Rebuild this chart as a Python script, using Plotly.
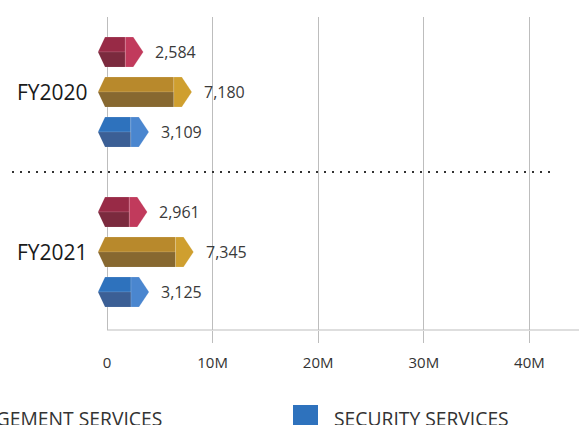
import plotly.graph_objects as go

# ---------------- data ----------------
groups = ["FY2020", "FY2021"]
series = ["PROFESSIONAL SERVICES", "FACILITY MANAGEMENT SERVICES", "SECURITY SERVICES"]
fy2020 = [2584, 7180, 3109]
fy2021 = [2961, 7345, 3125]
tick_vals = [0, 10000, 20000, 30000, 40000]
tick_text = ["0", "10M", "20M", "30M", "40M"]

top_colors = ["#982A46", "#B8892C", "#2E72BD"]
bottom_colors = ["#7B2A3E", "#876830", "#3B5F95"]
cap_colors = ["#C13A5C", "#CF9F2F", "#4A86CF"]

# ---------------- geometry helpers ----------------
OFF = 0                           # body margin removed via post_script
W, H = 579, 425
ML, MR, MT, MB = 90, 0, 17, 95
plot_w = W - ML - MR
plot_h = H - MT - MB
zero_px = 17                      # distance of x=0 from plot left edge
px_per_unit = 105.6 / 10000
K = 1 / px_per_unit               # data units per pixel
x_range = [-zero_px * K, (plot_w - zero_px) * K]
y_range = [6.95, -0.875]
half = 0.375

def ppx(px):                      # paper x from window pixel
    return (px - OFF - ML) / plot_w

def ppy(py):                      # paper y from window pixel
    return (H - MB - (py - OFF)) / plot_h

fig = go.Figure()
annotations = []
values = [fy2020, fy2021]

for g, gname in enumerate(groups):
    for s in range(len(series)):
        v = values[g][s]
        y = g * 4 + s
        # top face
        fig.add_trace(go.Scatter(
            x=[-9 * K, -2 * K, v - 9 * K, v - 9 * K, -9 * K],
            y=[y, y - half, y - half, y, y],
            mode="lines", fill="toself", fillcolor=top_colors[s],
            line=dict(color="rgba(255,255,255,0.18)", width=0.8),
            hoverinfo="skip", showlegend=False))
        # bottom face
        fig.add_trace(go.Scatter(
            x=[-9 * K, v - 9 * K, v - 9 * K, -2 * K, -9 * K],
            y=[y, y, y + half, y + half, y],
            mode="lines", fill="toself", fillcolor=bottom_colors[s],
            line=dict(color="rgba(255,255,255,0.12)", width=0.8),
            hoverinfo="skip", showlegend=False))
        # end cap
        fig.add_trace(go.Scatter(
            x=[v - 9 * K, v - 1 * K, v + 9 * K, v - 1 * K, v - 9 * K, v - 9 * K],
            y=[y - half, y - half, y, y + half, y + half, y - half],
            mode="lines", fill="toself", fillcolor=cap_colors[s],
            line=dict(color="rgba(255,255,255,0.2)", width=0.8),
            hoverinfo="skip", showlegend=False))
        annotations.append(dict(
            x=v, y=y, xref="x", yref="y", xanchor="left", yanchor="middle",
            xshift=19, showarrow=False, text=f"{v:,}",
            font=dict(family="Open Sans", size=16, color="#3a3a3a")))
    annotations.append(dict(
        x=0, y=g * 4 + 1, xref="x", yref="y", xanchor="right", yanchor="middle",
        xshift=-17, showarrow=False, text=gname,
        font=dict(family="Open Sans", size=21, color="#1a1a1a")))

shapes = []
# bottom axis line starting at zero
shapes.append(dict(type="line", xref="x", yref="paper", x0=0, x1=x_range[1],
                   y0=0, y1=0, line=dict(color="#BDBDBD", width=1)))
# dotted separator between the years
shapes.append(dict(type="line", xref="paper", yref="y", x0=ppx(12), x1=ppx(553),
                   y0=3, y1=3, line=dict(color="#333333", width=2, dash="2px,6px")))

# custom legend (large square swatches)
legend_items = [
    (1, 164, "right"),
    (2, 332, "left"),
]
for s, tx, anchor in legend_items:
    sq_x0 = tx - 39 if anchor == "left" else tx - 340
    shapes.append(dict(type="rect", xref="paper", yref="paper",
                       x0=ppx(sq_x0), x1=ppx(sq_x0 + 25), y0=ppy(405), y1=ppy(430),
                       fillcolor=top_colors[s], line=dict(width=0)))
    annotations.append(dict(
        x=ppx(tx), y=ppy(418), xref="paper", yref="paper", xanchor=anchor,
        yanchor="middle", showarrow=False, text=series[s],
        font=dict(family="Open Sans", size=19.3, color="#333333")))

fig.update_layout(
    width=W, height=H,
    margin=dict(l=ML, r=MR, t=MT, b=MB),
    paper_bgcolor="white", plot_bgcolor="white",
    showlegend=False,
    xaxis=dict(range=x_range, tickmode="array", tickvals=tick_vals, ticktext=tick_text,
               showgrid=True, gridcolor="#BDBDBD", gridwidth=1, zeroline=False,
               showline=False, ticks="", ticklabelstandoff=22,
               tickfont=dict(family="Open Sans", size=15, color="#333333"),
               minor=dict(tickmode="array", tickvals=tick_vals[1:], ticks="outside",
                          ticklen=12, tickcolor="#BDBDBD", showgrid=False),
               fixedrange=True),
    yaxis=dict(range=y_range, showgrid=False, zeroline=False, showticklabels=False,
               showline=False, ticks="", fixedrange=True),
    shapes=shapes,
    annotations=annotations,
)

fig.write_html(
    "out.html",
    config={"displayModeBar": False},
    post_script="document.body.style.margin='0';document.body.style.overflow='hidden';",
)
